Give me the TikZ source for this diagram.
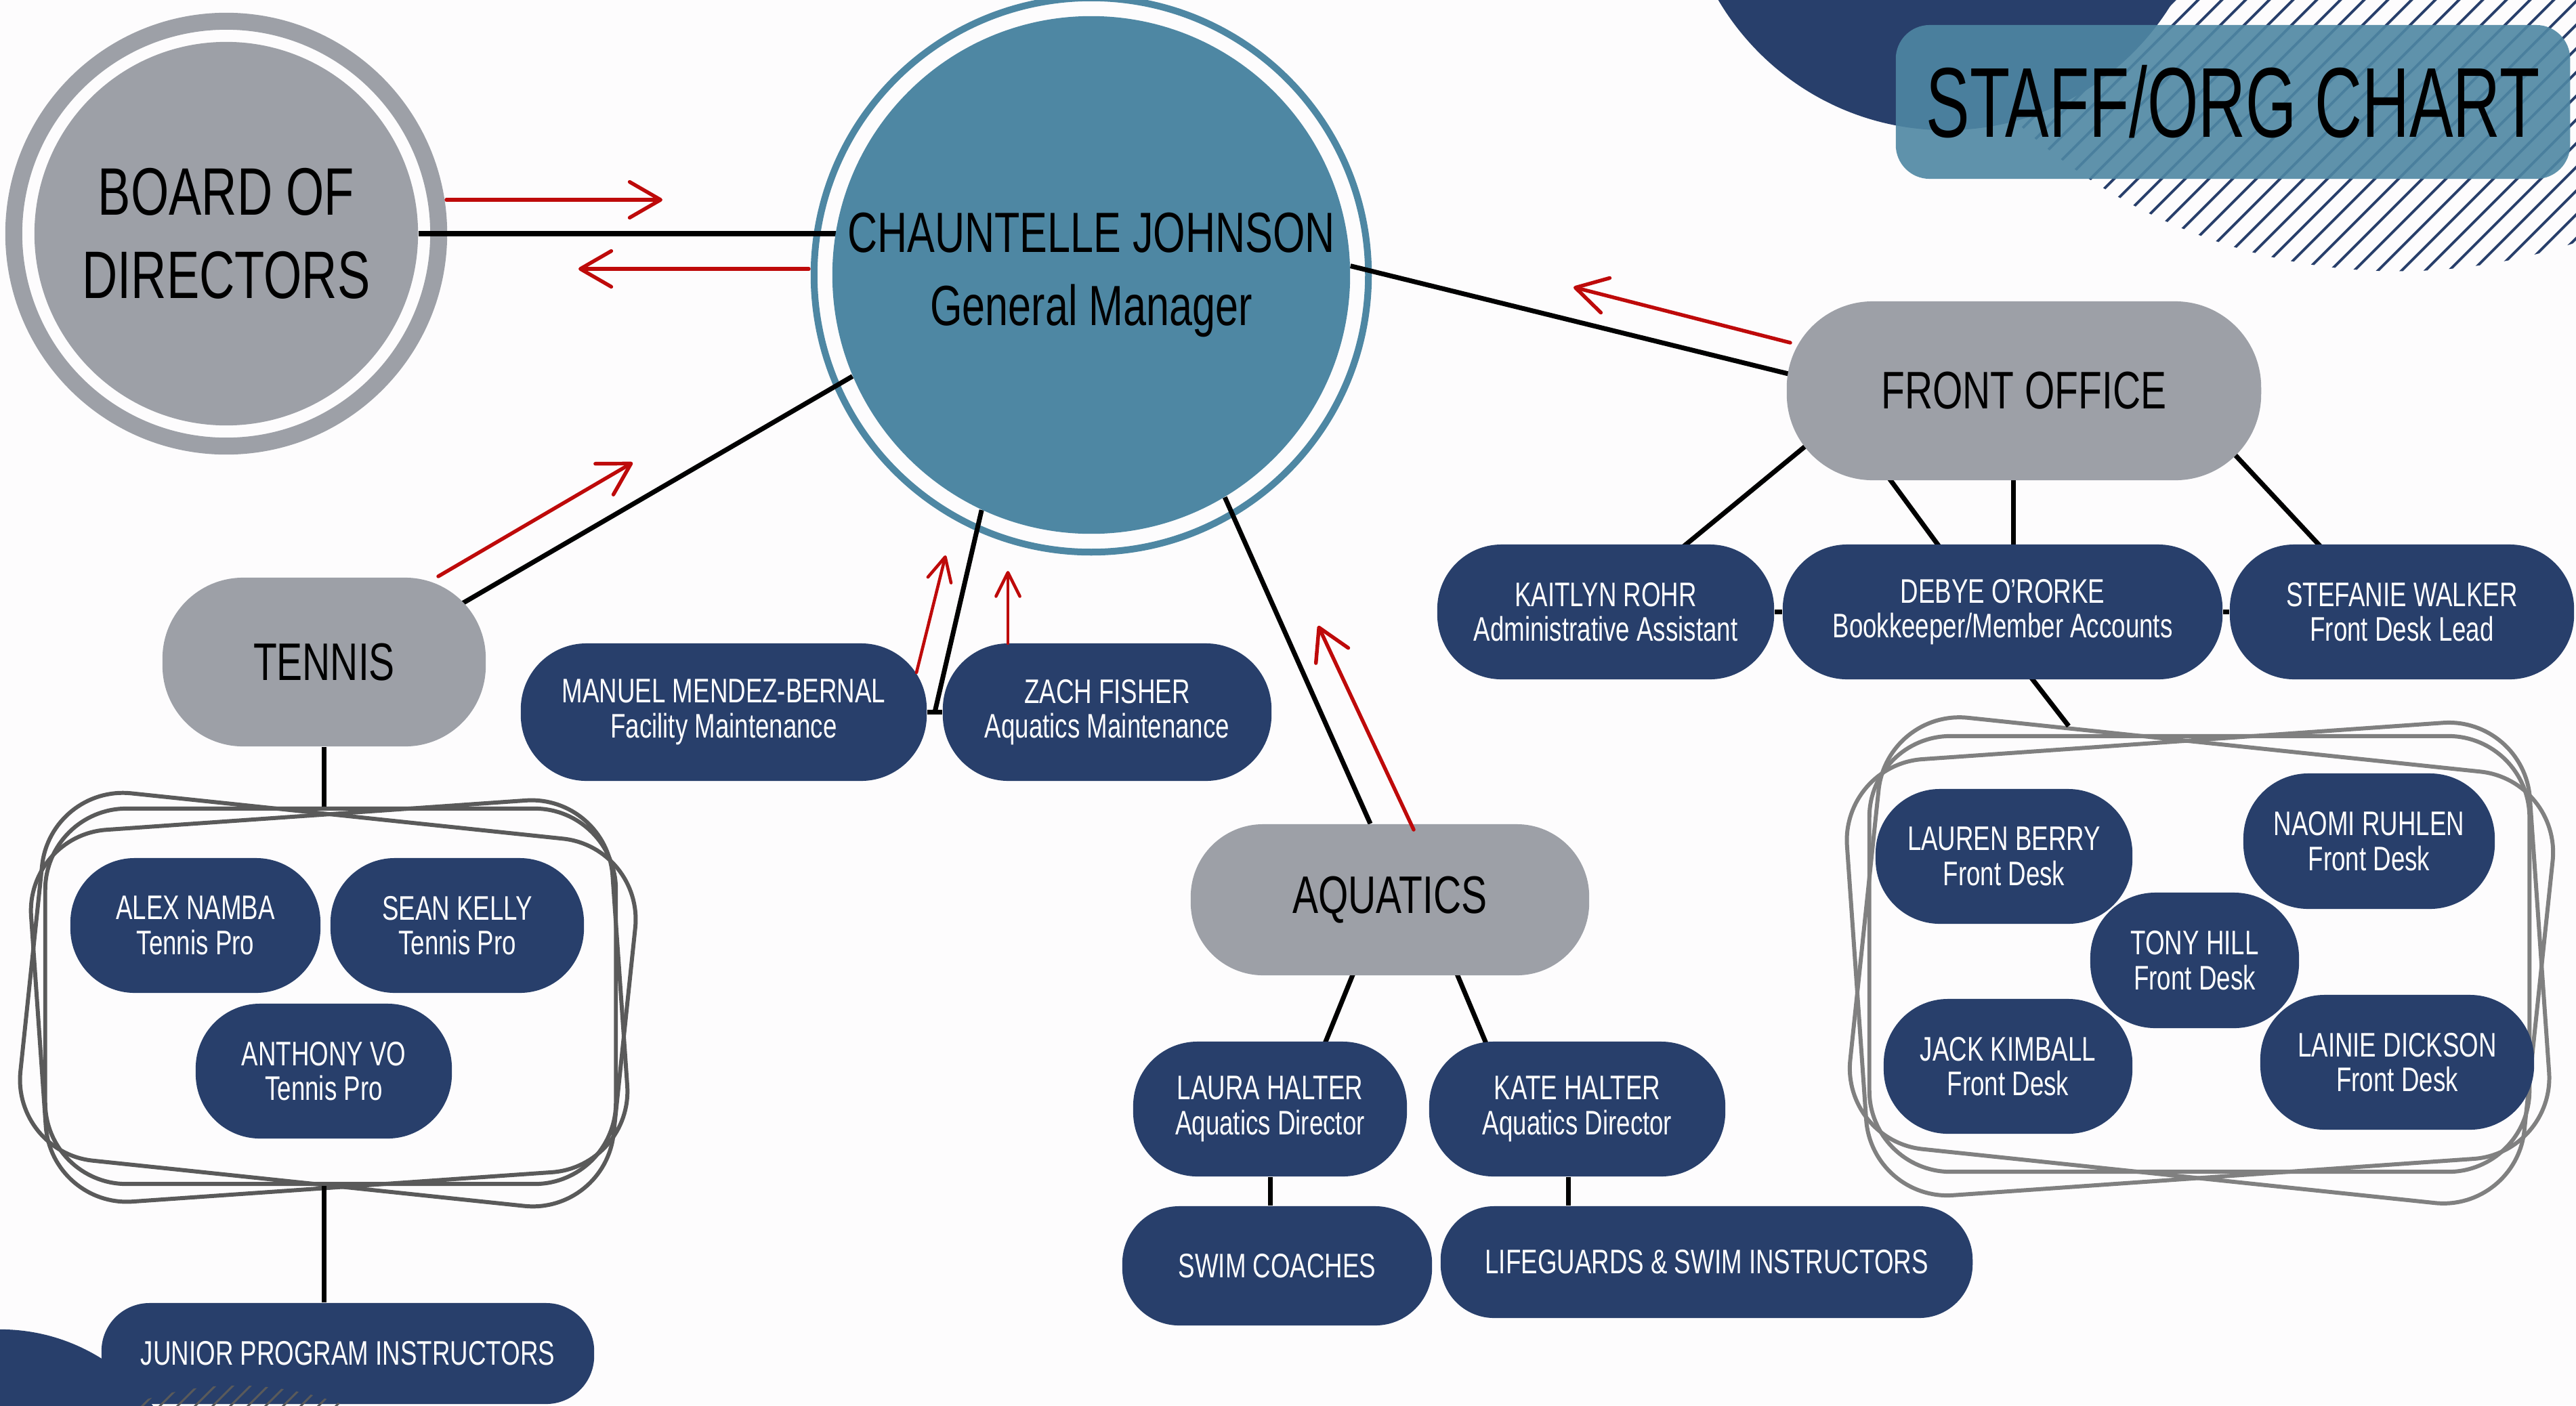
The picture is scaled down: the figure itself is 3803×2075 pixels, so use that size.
\documentclass[tikz,border=0pt]{standalone}
\usepackage{fontspec}
\setmainfont{Liberation Sans}[FakeStretch=0.73]
\newfontfamily\titlefont{Liberation Sans}[FakeStretch=0.66]
\usetikzlibrary{arrows.meta}
\definecolor{navy}{RGB}{40,63,107}
\definecolor{nodegray}{RGB}{157,160,167}
\definecolor{gmblue}{RGB}{78,135,163}
\definecolor{arrred}{RGB}{190,10,10}
\definecolor{framegray}{RGB}{128,128,128}
\definecolor{framedark}{RGB}{90,90,90}
\definecolor{bgcol}{RGB}{253,252,253}
\definecolor{hatchgray}{RGB}{90,90,90}
\pgfdeclarelayer{deco}
\pgfdeclarelayer{lines}
\pgfdeclarelayer{top}
\pgfsetlayers{deco,lines,main,top}
\newcommand\fTitle{\fontsize{41.7}{44}\selectfont}
\newcommand\fBoard{\fontsize{28.2}{35}\selectfont}
\newcommand\fGM{\fontsize{23.8}{30.7}\selectfont}
\newcommand\fBig{\fontsize{22.2}{26}\selectfont}
\newcommand\fSmall{\fontsize{14.3}{14.6}\selectfont}
\begin{document}
\begin{tikzpicture}[x=0.01cm,y=-0.01cm,
  navybox/.style n args={3}{rectangle, fill=navy, text=white, inner sep=0pt, align=center, font=\fSmall,
     minimum width=#1cm, minimum height=#2cm, rounded corners=#3cm},
  graybox/.style n args={3}{rectangle, fill=nodegray, text=black, inner sep=0pt, align=center, font=\fBig,
     minimum width=#1cm, minimum height=#2cm, rounded corners=#3cm},
  conn/.style={black, line width=2pt},
  redarrow/.style={arrred, line width=1.55pt, line cap=round, -{Straight Barb[round,length=13pt,width=15pt]}},
  redsmall/.style={arrred, line width=1.3pt, line cap=round, -{Straight Barb[round,length=10pt,width=10pt]}},
  grpframe/.style n args={3}{rectangle, draw=#3, line width=1.7pt, rounded corners=1.2cm, inner sep=0pt,
     minimum width=#1cm, minimum height=#2cm}
]
\useasboundingbox (0,0) rectangle (3803,2075);

% ---------- main nodes ----------
\node[circle, fill=nodegray, minimum size=5.66cm, inner sep=0pt, align=center, font=\fBoard] (board) at (334,345) {BOARD OF\\DIRECTORS};
\node[circle, fill=gmblue, minimum size=7.64cm, inner sep=0pt, align=center, font=\fGM] (gm) at (1611,406) {CHAUNTELLE JOHNSON\\General Manager};
\node[rectangle, fill=gmblue, fill opacity=0.9, text opacity=1, rounded corners=0.5cm, minimum width=9.95cm, minimum height=2.27cm, inner sep=0pt, font=\titlefont\fTitle] (title) at (3296.5,150.5) {STAFF/ORG CHART};

\node[graybox={7.00}{2.64}{1.27}] (fo) at (2988,577) {FRONT OFFICE};
\node[navybox={4.97}{1.99}{0.95}] (kaitlyn) at (2370.5,903.5) {KAITLYN ROHR\\Administrative Assistant};
\node[navybox={6.49}{1.99}{0.95}] (debye) at (2956.5,903.5) {DEBYE O'RORKE\\Bookkeeper/Member Accounts};
\node[navybox={5.08}{1.99}{0.95}] (stefanie) at (3546,903.5) {STEFANIE WALKER\\Front Desk Lead};

\node[navybox={3.79}{1.99}{0.95}] (lauren) at (2958.5,1264.5) {LAUREN BERRY\\Front Desk};
\node[navybox={3.71}{2.00}{0.96}] (naomi) at (3497.5,1242) {NAOMI RUHLEN\\Front Desk};
\node[navybox={3.08}{2.00}{0.96}] (tony) at (3240,1418) {TONY HILL\\Front Desk};
\node[navybox={3.67}{1.99}{0.95}] (jack) at (2964.5,1574.5) {JACK KIMBALL\\Front Desk};
\node[navybox={4.04}{1.99}{0.95}] (lainie) at (3539,1568.5) {LAINIE DICKSON\\Front Desk};

\node[graybox={4.77}{2.49}{1.19}] (tennis) at (478.5,977.5) {TENNIS};
\node[navybox={5.99}{2.03}{0.97}] (manuel) at (1068.5,1051.5) {MANUEL MENDEZ-BERNAL\\Facility Maintenance};
\node[navybox={4.85}{2.03}{0.97}] (zach) at (1634.5,1051.5) {ZACH FISHER\\Aquatics Maintenance};

\node[graybox={5.88}{2.23}{1.07}] (aquatics) at (2052,1328.5) {AQUATICS};
\node[navybox={4.04}{1.99}{0.95}] (laura) at (1875,1637.5) {LAURA HALTER\\Aquatics Director};
\node[navybox={4.37}{1.99}{0.95}] (kate) at (2328.5,1637.5) {KATE HALTER\\Aquatics Director};
\node[navybox={4.57}{1.76}{0.84}] (swim) at (1885.5,1869) {SWIM COACHES};
\node[navybox={7.85}{1.65}{0.79}] (life) at (2519.5,1863.5) {LIFEGUARDS \& SWIM INSTRUCTORS};

\node[navybox={3.69}{1.99}{0.95}] (alex) at (288.5,1366.5) {ALEX NAMBA\\Tennis Pro};
\node[navybox={3.74}{1.99}{0.95}] (sean) at (675,1366.5) {SEAN KELLY\\Tennis Pro};
\node[navybox={3.78}{1.99}{0.95}] (anthony) at (478,1581.5) {ANTHONY VO\\Tennis Pro};
\node[navybox={7.27}{1.49}{0.71}] (junior) at (513.5,1998.5) {JUNIOR PROGRAM INSTRUCTORS};

% ---------- decorations ----------
\begin{pgfonlayer}{deco}
  \fill[bgcol] (0,0) rectangle (3803,2075);
  \begin{scope}
    \clip (3540,-430) circle (8.30cm);
    \foreach \i in {0,...,45} \draw[navy, line width=1.1pt] ({2200+35*\i},520) -- ++(760,-760);
  \end{scope}
  \fill[navy] (2873,-198) circle (3.9cm);
  \fill[navy] (0,2245) circle (2.82cm);
  \draw[nodegray, line width=0.25cm] (board.center) circle (3.135cm);
  \draw[gmblue, line width=0.1cm] (gm.center) circle (4.09cm);
  % tennis group frames
  \node[grpframe={8.42}{5.54}{framedark}] (tgA) at (488,1471) {};
  \node[grpframe={8.80}{5.45}{framedark}, rotate=-6] (tgB) at (484,1476) {};
  \node[grpframe={8.60}{5.50}{framedark}, rotate=4] (tgC) at (486,1478) {};
  % front desk group frames
  \node[grpframe={9.74}{6.43}{framegray}] (fdA) at (3247,1408.5) {};
  \node[grpframe={10.0}{6.40}{framegray}, rotate=-6] (fdB) at (3250,1418) {};
  \node[grpframe={10.1}{6.45}{framegray}, rotate=4] (fdC) at (3245,1416) {};
\end{pgfonlayer}

% ---------- connectors ----------
\begin{pgfonlayer}{lines}
  \draw[conn] (board.east) -- (board.east -| gm.center);
  \draw[conn] ([shift={(121.5,-38.5)}]tennis.center) -- (gm.203);
  \draw[conn] (manuel.east) -- (zach.west) coordinate[pos=0.5] (mz);
  \draw[conn] (mz) -- (gm.245);
  \draw[conn] ([shift={(-29,0)}]aquatics.north) -- (gm.301);
  \draw[conn] ([shift={(-238,2)}]fo.center) -- (gm.2);
  \draw[conn] ([shift={(-268,36.7)}]fo.center) -- ([shift={(62.5,-53.5)}]kaitlyn.center);
  \draw[conn] ([shift={(-233,83)}]fo.center) -- ([shift={(-62,-53.5)}]debye.center);
  \draw[conn] ([shift={(-16,73)}]fo.center) -- ([shift={(15.5,-53.5)}]debye.center);
  \draw[conn] ([shift={(263.5,43)}]fo.center) -- ([shift={(-80,-53.5)}]stefanie.center);
  \draw[conn] (kaitlyn.east) -- (debye.west);
  \draw[conn] (debye.east) -- (stefanie.west);
  \coordinate (fdtop) at (3054,1072);
  \draw[conn] ([shift={(3,46.5)}]debye.center) -- (fdtop);
  \draw[conn] (tennis.south) -- (tennis.south |- tgA.north);
  \draw[conn] (tennis.south |- tgA.south) -- (tennis.south |- junior.north);
  \draw[conn] ([shift={(-39,71.5)}]aquatics.center) -- ([shift={(65,-57.5)}]laura.center);
  \draw[conn] ([shift={(83,71.5)}]aquatics.center) -- ([shift={(-118,-57.5)}]kate.center);
  \draw[conn] (laura.south) -- (laura.south |- swim.north);
  \draw[conn] ([shift={(-13,0)}]kate.south) -- ([shift={(-13,0)}]kate.south |- life.north);
\end{pgfonlayer}

% ---------- red arrows and top decorations ----------
\begin{pgfonlayer}{top}
  \coordinate (a1s) at (659,295);   \coordinate (a1e) at (978,295);
  \coordinate (a2s) at (1194,397);  \coordinate (a2e) at (854,397);
  \coordinate (a3s) at (647,851);   \coordinate (a3e) at (934,683);
  \coordinate (a4s) at (1353,993);  \coordinate (a4e) at (1396,820);
  \coordinate (a5s) at (1488,950);  \coordinate (a5e) at (1488,843);
  \coordinate (a6s) at (2087,1225); \coordinate (a6e) at (1946,924);
  \coordinate (a7s) at (2643,506);  \coordinate (a7e) at (2323,424);
  \draw[redarrow] (a1s) -- (a1e);
  \draw[redarrow] (a2s) -- (a2e);
  \draw[redarrow] (a3s) -- (a3e);
  \draw[redsmall] (a4s) -- (a4e);
  \draw[redsmall] (a5s) -- (a5e);
  \draw[redarrow] (a6s) -- (a6e);
  \draw[redarrow] (a7s) -- (a7e);
  \begin{scope}
    \clip (350,2491) circle (4.45cm);
    \foreach \i in {0,...,15} \draw[hatchgray, line width=0.85pt] ({150+26*\i},2110) -- ++(130,-130);
  \end{scope}
\end{pgfonlayer}
\end{tikzpicture}
\end{document}
